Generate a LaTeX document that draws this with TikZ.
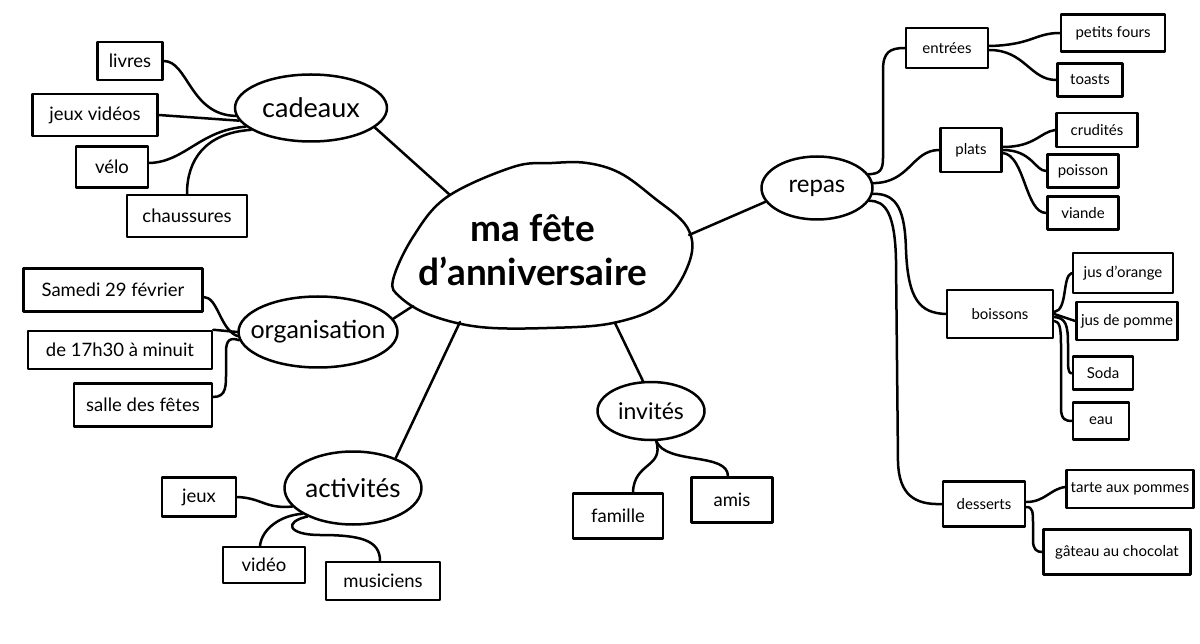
\documentclass[tikz,border=0pt]{standalone}
\usepackage{fontspec}
\setmainfont{Lato}
\usetikzlibrary{shapes.geometric}
\newcommand\zwtext[1]{\makebox[0pt]{#1}}
\tikzset{
  ln/.style={line width=2.5pt, line cap=round, line join=round},
  box/.style 2 args={draw, ln, rectangle, minimum width=#1pt, minimum height=#2pt, inner sep=0pt, font=\fontsize{18.5}{22}\selectfont},
  rbox/.style 2 args={box={#1}{#2}, font=\fontsize{15}{18}\selectfont},
  ell/.style 2 args={draw, ln, ellipse, minimum width=#1pt, minimum height=#2pt, inner sep=0pt},
}
\begin{document}
\begin{tikzpicture}[x=1pt, y=-1pt]
\useasboundingbox[fill=white] (0,0) rectangle (1200,644);

% central dome
\draw[ln] plot[smooth cycle, tension=0.6] coordinates {(552,163) (513,167) (447,197) (413,237) (393,280) (400,297) (430,315) (480,327) (547,328) (613,323) (663,303) (690,260) (687,227) (653,197) (620,173) (587,163)};
\node[font=\bfseries\fontsize{37}{44}\selectfont, align=center] (main) at (533,250) {ma fête\\d'anniversaire};
\coordinate (mcad) at (450,195);
\coordinate (morg) at (413,306);
\coordinate (mact) at (460,322);
\coordinate (minv) at (615,323);
\coordinate (mrep) at (689,235);

% cadeaux
\node[ell={152}{67}, font=\fontsize{27}{30}\selectfont] (cad) at (311,108) {\zwtext{cadeaux}};
\node[box={65}{38}] (livres) at (130,61) {livres};
\node[box={125}{42}] (jv) at (95,115) {jeux vidéos};
\node[box={72}{41}] (velo) at (112,167) {vélo};
\node[box={120}{42}] (chaus) at (187,216) {chaussures};

% organisation
\node[ell={159}{71}, font=\fontsize{25}{28}\selectfont] (org) at (318,332) {\zwtext{organisation}};
\node[box={179}{43}] (sam) at (113,290) {Samedi 29 février};
\node[box={184}{38}] (d17) at (120,350) {de 17h30 à minuit};
\node[box={138}{43}] (salle) at (143,405) {salle des fêtes};

% activites
\node[ell={137}{73}, font=\fontsize{26}{29}\selectfont] (act) at (353,488) {\zwtext{activités}};
\node[box={74}{39}] (jeux) at (199,497) {jeux};
\node[box={82}{36}] (video) at (264,565) {vidéo};
\node[box={114}{38}] (mus) at (383,581) {musiciens};

% invites
\node[ell={107}{58}, font=\fontsize{23}{26}\selectfont] (inv) at (651,411) {\zwtext{invités}};
\node[box={90}{45}] (fam) at (618,516) {famille};
\node[box={81}{45}] (amis) at (732,500) {amis};

% repas
\node[ell={111}{63}, font=\fontsize{24}{27}\selectfont] (rep) at (817,188) {\zwtext{repas}};
\node[rbox={82}{40}] (ent) at (947,48) {entrées};
\node[rbox={104}{37}] (pf) at (1113,33) {petits fours};
\node[rbox={65}{33}] (toasts) at (1090,80) {toasts};
\node[rbox={61}{44}] (plats) at (971,150) {plats};
\node[rbox={81}{34}] (crud) at (1097,130) {crudités};
\node[rbox={71}{33}] (poi) at (1083,171) {poisson};
\node[rbox={71}{33}] (vi) at (1083,213) {viande};
\node[rbox={106}{48}] (boi) at (1000,314) {boissons};
\node[rbox={100}{40}] (jo) at (1123,273) {jus d'orange};
\node[rbox={101}{38}] (jp) at (1127,321) {jus de pomme};
\node[rbox={60}{33}] (soda) at (1103,373) {Soda};
\node[rbox={56}{37}] (eau) at (1101,421) {eau};
\node[rbox={82}{45}] (des) at (984,504) {desserts};
\node[rbox={127}{38}] (tarte) at (1130,489) {tarte aux pommes};
\node[rbox={147}{45}] (gat) at (1117,552) {gâteau au chocolat};

% connectors: main
\draw[ln] (cad.-17) -- (mcad);
\draw[ln] (org.10) -- (morg);
\draw[ln] (act.35) -- (mact);
\draw[ln] (inv.105) -- (minv);
\draw[ln] (rep.195) -- (mrep);

% cadeaux
\draw[ln] (livres.east) .. controls (188,61) and (190,115) .. (cad.186);
\draw[ln] (jv.east) -- (cad.190);
\draw[ln] ([yshift=4pt]velo.east) .. controls (185,162) and (200,130) .. (cad.196);
\draw[ln] (chaus.north) .. controls (187,160) and (205,133) .. (cad.200);

% organisation
\draw[ln] ([yshift=-7pt]sam.east) .. controls (218,297) and (220,330) .. (org.183);
\draw[ln] (d17.north east) -- (org.west);
\draw[ln] ([yshift=8pt]salle.east) .. controls (227,397) and (226,385) .. (226,370) -- (226,352) .. controls (226,340) and (230,337) .. (org.186);

% activites
\draw[ln] (jeux.east) .. controls (262,498) and (265,509) .. (act.197);
\draw[ln] ([xshift=-4pt]video.north) .. controls (262,528) and (282,515) .. (act.207);
\draw[ln] ([xshift=-3pt]mus.north) .. controls (380,540) and (360,535) .. (320,535) .. controls (288,535) and (283,522) .. (act.212);

% invites
\draw[ln] (inv.-80) .. controls (664,468) and (634,462) .. ([xshift=15pt]fam.north);
\draw[ln] (inv.-80) .. controls (666,465) and (728,452) .. ([xshift=-4pt]amis.north);

% repas
\draw[ln] (rep.15) .. controls (880,174) and (883,170) .. (883,158) -- (883,70) .. controls (883,52) and (890,48) .. (ent.west);
\draw[ln] (rep.5) .. controls (910,183) and (912,150) .. (plats.west);
\draw[ln] (rep.-6) .. controls (898,193) and (905,212) .. (906,250) .. controls (908,300) and (920,313) .. (boi.west);
\draw[ln] (rep.-14) .. controls (886,200) and (895,215) .. (896,260) -- (898,462) .. controls (899,495) and (915,505) .. (des.west);

\draw[ln] ([yshift=2pt]ent.east) .. controls (1032,45) and (1035,33) .. (pf.west);
\draw[ln] ([yshift=-2pt]ent.east) .. controls (1025,50) and (1030,80) .. (toasts.west);

\draw[ln] ([yshift=3pt]plats.east) .. controls (1035,147) and (1040,132) .. (crud.west);
\draw[ln] (plats.east) .. controls (1032,150) and (1035,171) .. (poi.west);
\draw[ln] ([yshift=-3pt]plats.east) .. controls (1025,155) and (1025,213) .. (vi.west);

\draw[ln] ([yshift=2pt]boi.east) .. controls (1068,310) and (1062,276) .. (jo.west);
\draw[ln] (boi.east) -- (jp.west);
\draw[ln] ([yshift=-3pt]boi.east) .. controls (1066,318) and (1068,325) .. (1068,345) -- (1068,362) .. controls (1068,372) and (1070,374) .. (soda.west);
\draw[ln] ([yshift=-7pt]boi.east) .. controls (1059,322) and (1061,325) .. (1061,345) -- (1061,408) .. controls (1061,420) and (1066,421) .. (eau.west);

\draw[ln] ([yshift=2pt]des.east) .. controls (1045,502) and (1050,489) .. ([yshift=2pt]tarte.west);
\draw[ln] ([yshift=-3pt]des.east) .. controls (1033,507) and (1033,512) .. (1033,525) -- (1033,540) .. controls (1033,550) and (1037,552) .. (gat.west);
\end{tikzpicture}
\end{document}
